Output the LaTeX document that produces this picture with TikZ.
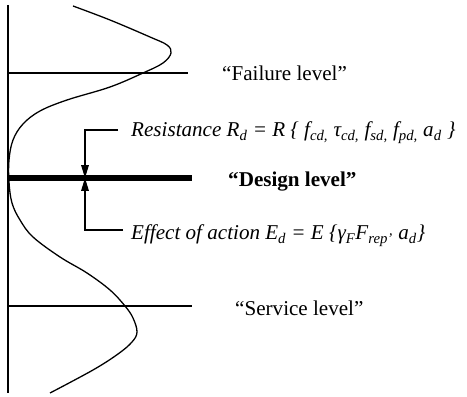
\documentclass[tikz,border=0pt]{standalone}
\usepackage{fontspec}
\setmainfont{Liberation Serif}
\usepackage{tikz}
\usetikzlibrary{arrows.meta}

\begin{document}
\begin{tikzpicture}[x=0.03cm, y=-0.03cm, every node/.style={font=\fontsize{18}{22}\selectfont}]
  \tikzstyle{levelline}=[line width=1.1pt]
  \tikzstyle{designline}=[line width=4.5pt]
  \tikzstyle{bracketarrow}=[line width=1.1pt, -{Triangle[length=11pt, width=6.5pt]}]
  \tikzstyle{leveltext}=[inner sep=0pt, anchor=base west]
  \useasboundingbox (0,0) rectangle (467,397);
  \coordinate (top) at (8,5);
  \coordinate (bottom) at (8,393);
  \draw[line width=1.2pt] (top) -- (bottom);
  \draw[line width=1.1pt] plot[smooth, tension=0.6] coordinates {(73,6) (110,20) (150,37) (167,45) (171,53) (163,63) (143,73) (110,87) (67,100) (40,111) (23,124) (13,140) (9,160) (9,182) (12,203) (20,220) (33,237) (60,257) (87,273) (110,290) (125,306) (133,318) (137,332) (132,342) (118,354) (93,370) (50,393)};
  \coordinate (failL) at (8,73);
  \coordinate (failR) at (188,73);
  \coordinate (designL) at (8,178);
  \coordinate (designR) at (192,178);
  \coordinate (serviceL) at (8,306);
  \coordinate (serviceR) at (192,306);
  \draw[levelline] (failL) -- (failR);
  \draw[designline] (designL) -- (designR);
  \draw[levelline] (serviceL) -- (serviceR);
  \coordinate (hit) at (85,178);
  \coordinate (resEnd) at (118,130);
  \coordinate (effEnd) at (123,230);
  \draw[bracketarrow] (resEnd) -| (hit);
  \draw[bracketarrow] (effEnd) -| (hit);
  \node[leveltext] (fail) at (222,81) {“Failure level”};
  \node[leveltext] (resist) at (131,137) {\itshape Resistance R\textsubscript{d} = R \{ f\textsubscript{cd,} τ\textsubscript{cd,} f\textsubscript{sd,} f\textsubscript{pd,} a\textsubscript{d} \}};
  \node[leveltext, font=\fontsize{18}{22}\selectfont\bfseries] (design) at (228,187) {“Design level”};
  \node[leveltext] (effect) at (131,240) {\itshape Effect of action E\textsubscript{d} = E \{γ\textsubscript{F}F\textsubscript{rep’} a\textsubscript{d}\}};
  \node[leveltext] (service) at (235,316) {“Service level”};
\end{tikzpicture}
\end{document}
